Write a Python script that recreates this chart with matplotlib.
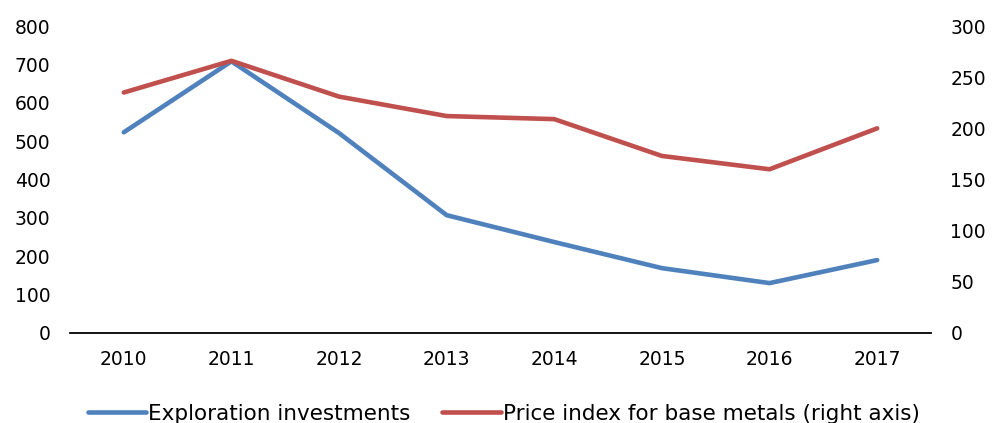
import matplotlib
matplotlib.use("Agg")
import matplotlib.pyplot as plt

years = ["2010", "2011", "2012", "2013", "2014", "2015", "2016", "2017"]
exploration = [523, 708, 521, 307, 237, 169, 130, 190]
price_index = [235, 266, 231, 212, 209, 173, 160, 200]

blue = "#4F81BD"
red = "#C0504D"

plt.rcParams["font.family"] = ["DejaVu Sans"]
plt.rcParams["font.size"] = 13.5

fig = plt.figure(figsize=(9.94, 4.23), dpi=100)
ax = fig.add_axes([0.0704, 0.2128, 0.8662, 0.7257])
ax2 = ax.twinx()

x = list(range(len(years)))
l1, = ax.plot(x, exploration, color=blue, lw=3.3, solid_capstyle="round",
              label="Exploration investments")
l2, = ax2.plot(x, price_index, color=red, lw=3.3, solid_capstyle="round",
               label="Price index for base metals (right axis)")

ax.set_xlim(-0.5, len(years) - 0.5)
ax.set_ylim(0, 800)
ax2.set_ylim(0, 300)
ax.set_yticks(range(0, 801, 100))
ax2.set_yticks(range(0, 301, 50))
ax.set_xticks(x)
ax.set_xticklabels(years)

for a in (ax, ax2):
    for s in ("top", "left", "right"):
        a.spines[s].set_visible(False)
ax2.spines["bottom"].set_visible(False)
ax.spines["bottom"].set_linewidth(1.3)
ax.spines["bottom"].set_color("black")

ax.tick_params(axis="y", length=0, pad=14)
ax2.tick_params(axis="y", length=0, pad=14)
ax.tick_params(axis="x", length=0, pad=12)

fig.legend(handles=[l1, l2], loc="center", bbox_to_anchor=(0.5066, 0.022),
           ncol=2, frameon=False, fontsize=15.5, handlelength=2.7,
           handletextpad=0.1, columnspacing=1.5)

fig.savefig("out.png", dpi=100)
